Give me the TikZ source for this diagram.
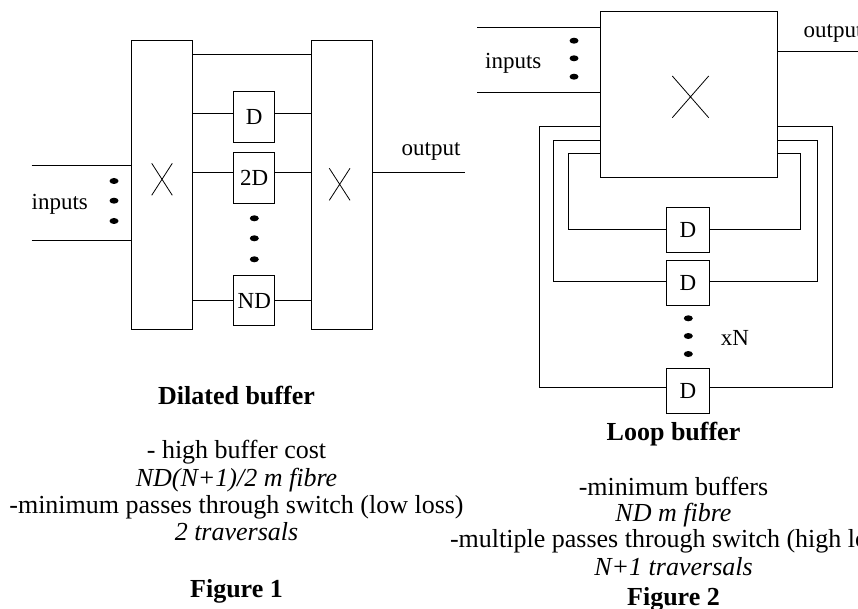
\documentclass[tikz,border=0pt]{standalone}
\usepackage{fontspec}
\setmainfont{Liberation Serif}
\begin{document}
\begin{tikzpicture}[x=1pt,y=-1pt,
  wire/.style={line width=0.8pt,black},
  switchbox/.style={draw,line width=0.8pt,rectangle,inner sep=0pt,anchor=north west},
  delaybox/.style={draw,line width=0.8pt,rectangle,inner sep=0pt,
    minimum width=41pt,font=\fontsize{23}{25}\selectfont},
  lbl/.style={inner sep=0pt,font=\fontsize{23}{25}\selectfont},
  captext/.style={inner sep=0pt,anchor=base,font=\fontsize{26}{27}\selectfont},
  capbold/.style={captext,font=\fontsize{26}{27}\selectfont\bfseries},
  capital/.style={captext,font=\fontsize{26}{27}\selectfont\itshape},
  dot/.style={fill=black,draw=none}]
\useasboundingbox (0,0) rectangle (858,609);
\clip (0,0) rectangle (858,609);

% ---------- Dilated buffer ----------
\node[switchbox,minimum width=61pt,minimum height=289pt] (sw1) at (130.5,40) {};
\node[switchbox,minimum width=61.5pt,minimum height=289pt] (sw2) at (310.5,40) {};
\draw[wire] (151.7,163.3) -- (172.3,195.3) (151.7,195.3) -- (172.3,163.3);
\draw[wire] (329.3,168.3) -- (350,200.3) (329.3,200.3) -- (350,168.3);

\node[delaybox,minimum height=51pt] (d1) at (254.3,117.3) {D};
\node[delaybox,minimum height=51pt] (d2) at (254.3,177.8) {2D};
\node[delaybox,minimum height=50pt] (dn) at (254.3,300.8) {ND};

\draw[wire] (sw1.east |- 0,54.3) -- (sw2.west |- 0,54.3);
\draw[wire] (sw1.east |- 0,113.3) -- (d1.west |- 0,113.3);
\draw[wire] (d1.east |- 0,113.3) -- (sw2.west |- 0,113.3);
\draw[wire] (sw1.east |- 0,172.3) -- (d2.west |- 0,172.3);
\draw[wire] (d2.east |- 0,172.3) -- (sw2.west |- 0,172.3);
\draw[wire] (sw1.east |- dn.west) -- (dn.west);
\draw[wire] (dn.east) -- (sw2.west |- dn.east);

\coordinate (in1a) at (31.7,165.3);
\coordinate (in1b) at (31.7,240);
\coordinate (out1) at (465,172.7);
\draw[wire] (in1a) -- (sw1.west |- in1a);
\draw[wire] (in1b) -- (sw1.west |- in1b);
\draw[wire] (sw2.east |- out1) -- (out1);

\foreach \y in {181,200.7,221} \fill[dot] (114,\y) ellipse (4.5 and 3);
\foreach \y in {218.3,238.3,259.3} \fill[dot] (254.3,\y) ellipse (4.5 and 3);

\node[lbl,anchor=base west] (inl1) at (31.5,210) {inputs};
\node[lbl,anchor=base west] (outl1) at (401.5,156) {output};

\node[capbold] (t1) at (236.5,404) {Dilated buffer};
\node[captext] (a1) at (236.5,458.3) {- high buffer cost};
\node[capital] (a2) at (236.5,486) {ND(N+1)/2 m fibre};
\node[captext] (a3) at (236.5,513.3) {-minimum passes through switch (low loss)};
\node[capital] (a4) at (236.5,540.5) {2 traversals};
\node[capbold] (f1) at (236.5,597.3) {Figure 1};

% ---------- Loop buffer ----------
\node[switchbox,minimum width=177.3pt,minimum height=166pt] (sw3) at (600,11) {};
\draw[wire] (672.3,76) -- (708.7,117.7) (672.3,117.7) -- (708.7,76);

\node[delaybox,minimum width=42.6pt,minimum height=45pt] (l1) at (688,229.8) {D};
\node[delaybox,minimum width=42.6pt,minimum height=44.3pt] (l2) at (688,282.8) {D};
\node[delaybox,minimum width=42.6pt,minimum height=45pt] (l3) at (688,390.8) {D};

% nested feedback loops from the switch through each delay line
\draw[wire] (sw3.west |- 0,153.7) -| (568.3,229) -- (l1.west |- 0,229);
\draw[wire] (l1.east |- 0,229) -- (800.7,229) |- (sw3.east |- 0,153.7);
\draw[wire] (sw3.west |- 0,140) -| (553.3,281) -- (l2.west |- 0,281);
\draw[wire] (l2.east |- 0,281) -- (817.7,281) |- (sw3.east |- 0,140);
\draw[wire] (sw3.west |- 0,126.3) -| (539,387.7) -- (l3.west |- 0,387.7);
\draw[wire] (l3.east |- 0,387.7) -- (832.3,387.7) |- (sw3.east |- 0,126.3);

\coordinate (in2a) at (477.3,27.3);
\coordinate (in2b) at (477.3,92.3);
\coordinate (out2) at (860,51.7);
\draw[wire] (in2a) -- (sw3.west |- in2a);
\draw[wire] (in2b) -- (sw3.west |- in2b);
\draw[wire] (sw3.east |- out2) -- (out2);

\foreach \y in {40.7,58.3,76.7} \fill[dot] (574,\y) ellipse (4.5 and 3);
\foreach \y in {318.3,336,354} \fill[dot] (688.3,\y) ellipse (4.5 and 3);

\node[lbl,anchor=base west] (inl2) at (485,68.3) {inputs};
\node[lbl,anchor=base west] (outl2) at (803.5,37.5) {output};
\node[lbl,anchor=base west] (xn) at (720.7,345.7) {xN};

\node[capbold] (t2) at (673.5,440) {Loop buffer};
\node[captext] (b1) at (673.5,495) {-minimum buffers};
\node[capital] (b2) at (673.5,521.7) {ND m fibre};
\node[captext] (b3) at (673.5,547.5) {-multiple passes through switch (high loss)};
\node[capital] (b4) at (673.5,575) {N+1 traversals};
\node[capbold] (f2) at (673.5,605) {Figure 2};
\end{tikzpicture}
\end{document}
